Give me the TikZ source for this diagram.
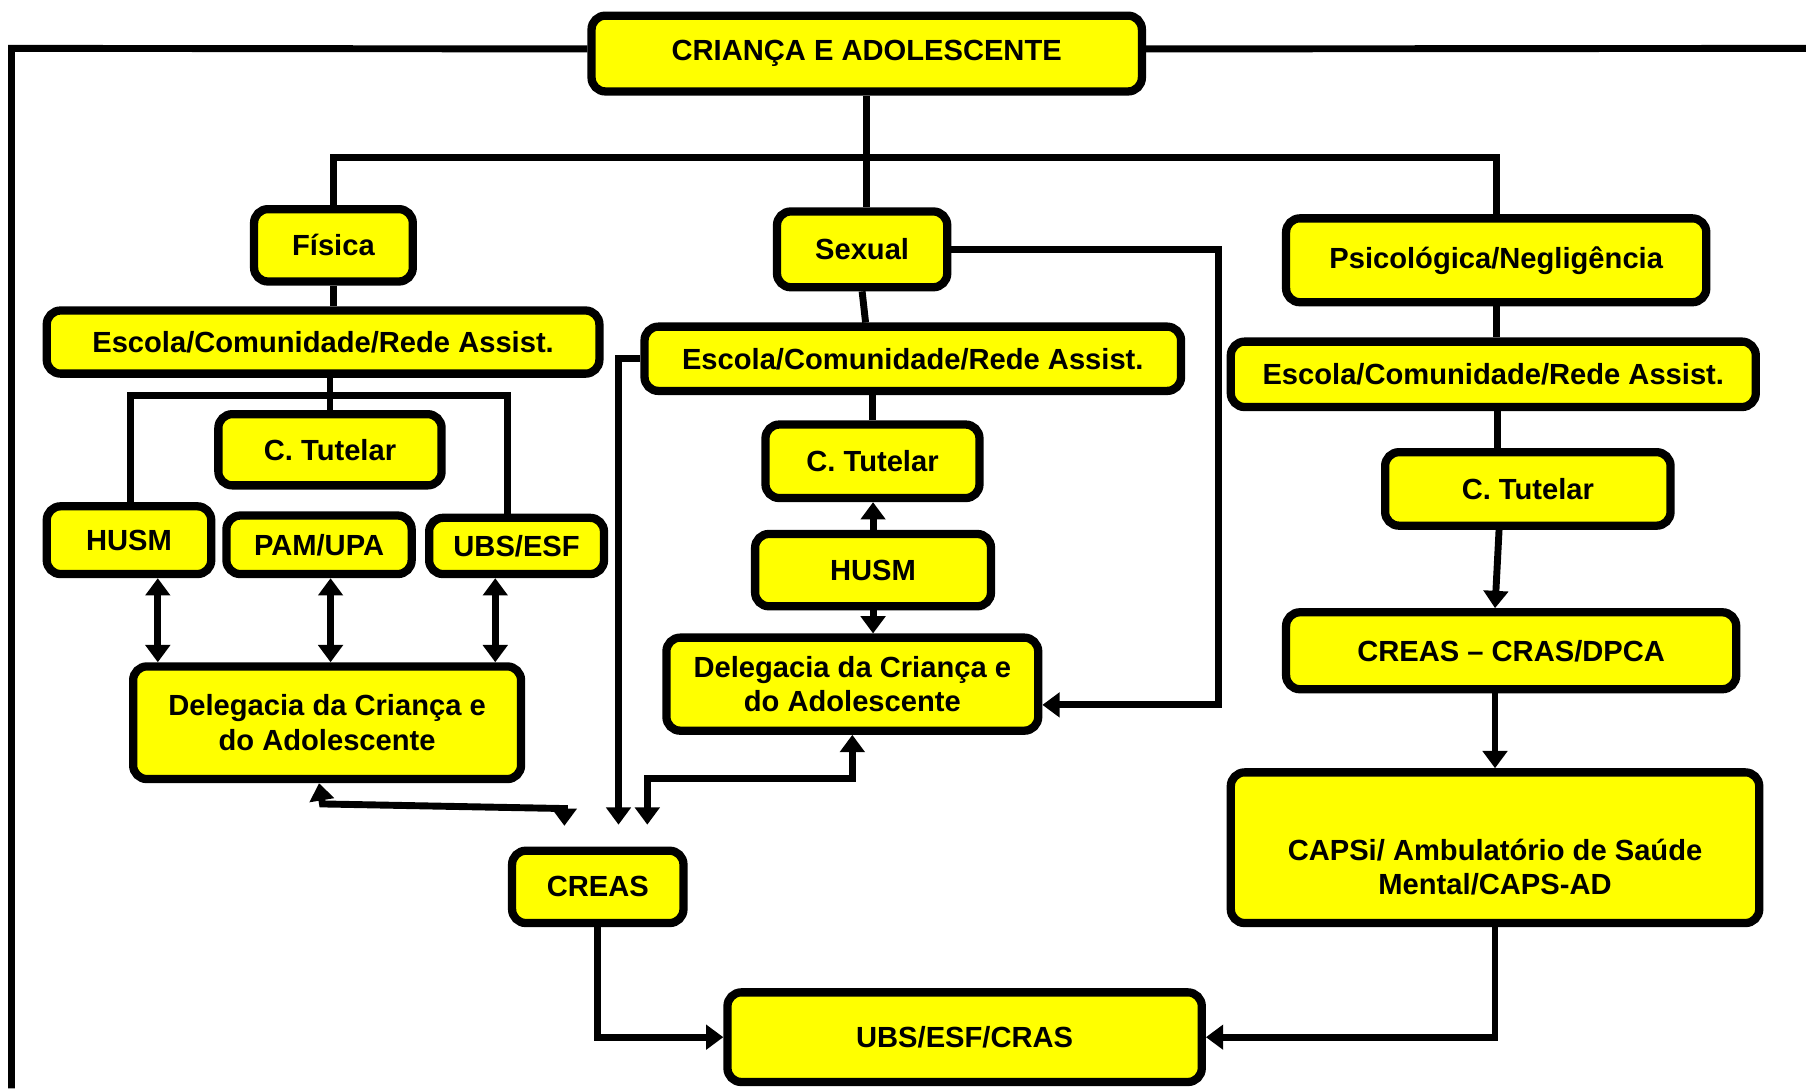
\documentclass[tikz,border=0pt]{standalone}
\usepackage{fontspec}
\setmainfont{Liberation Sans}
\usetikzlibrary{arrows.meta}
\begin{document}
\begin{tikzpicture}[x=0.5pt,y=-0.5pt,
  txt/.style={align=center,font=\bfseries\fontsize{12.65}{15}\selectfont},
  box/.style={txt,draw=drawColor,fill=fillColor,line width=3.6pt,rounded corners=6pt,inner sep=2pt},
  conn/.style={draw=drawColor,line width=3pt},
  tip/.style={conn,-{Triangle[length=7.5pt,width=10.5pt]}},
  dbl/.style={conn,{Triangle[length=7.5pt,width=10.5pt]}-{Triangle[length=7.5pt,width=10.5pt]}}]
\definecolor{fillColor}{RGB}{255,255,0}
\definecolor{drawColor}{RGB}{0,0,0}
\path[use as bounding box,fill=white] (0,0) rectangle (1568,945);

% boxes
\node[box,minimum width=238.9pt,minimum height=32.9pt] (main) at ( 752.5, 46.5) {CRIANÇA E ADOLESCENTE};
\node[box,minimum width= 68.9pt,minimum height=31.4pt] (fis)  at ( 289.5,213.0) {Física};
\node[box,minimum width= 73.9pt,minimum height=32.9pt] (sex)  at ( 748.5,216.5) {Sexual};
\node[box,minimum width=182.4pt,minimum height=36.4pt] (psi)  at (1299.0,226.0) {Psicológica/Negligência};

\node[box,minimum width=239.9pt,minimum height=27.4pt] (esc1) at ( 280.5,297.0) {Escola/Comunidade/Rede Assist.};
\node[box,minimum width= 96.9pt,minimum height=30.9pt] (ct1)  at ( 286.5,390.5) {C. Tutelar};
\node[box,minimum width= 71.4pt,minimum height=29.4pt] (husm1) at ( 112.0,469.0) {HUSM};
\node[box,minimum width= 80.4pt,minimum height=25.4pt] (pam)  at ( 277.0,473.0) {PAM/UPA};
\node[box,minimum width= 75.9pt,minimum height=24.4pt] (ubs1) at ( 448.5,474.0) {UBS/ESF};
\node[box,minimum width=168.4pt,minimum height=48.9pt] (del1) at ( 284.0,627.5) {Delegacia da Criança e\\do Adolescente};

\node[box,minimum width=232.9pt,minimum height=27.9pt] (esc2) at ( 792.5,311.5) {Escola/Comunidade/Rede Assist.};
\node[box,minimum width= 92.9pt,minimum height=31.9pt] (ct2)  at ( 757.5,400.5) {C. Tutelar};
\node[box,minimum width=102.4pt,minimum height=31.4pt] (husm2) at ( 758.0,495.0) {HUSM};
\node[box,minimum width=161.4pt,minimum height=40.4pt] (del2) at ( 740.0,594.0) {Delegacia da Criança e\\do Adolescente};
\node[box,minimum width= 74.4pt,minimum height=31.4pt] (creas) at ( 519.0,770.0) {CREAS};

\node[box,minimum width=227.9pt,minimum height=28.4pt] (esc3) at (1296.5,325.0) {Escola/Comunidade/Rede Assist.};
\node[box,minimum width=123.9pt,minimum height=31.9pt] (ct3)  at (1326.5,424.5) {C. Tutelar};
\node[box,minimum width=195.4pt,minimum height=33.4pt] (dpca) at (1312.0,565.0) {CREAS – CRAS/DPCA};
\node[box,minimum width=229.4pt,minimum height=65.4pt,
  label={[txt,inner sep=0pt,yshift=-8.5pt]center:CAPSi/ Ambulatório de Saúde\\Mental/CAPS-AD}] (caps) at (1298.0,736.0) {};
\node[box,minimum width=205.9pt,minimum height=38.9pt] (ucras) at ( 837.5,900.5) {UBS/ESF/CRAS};

% free ends
\coordinate (frameTL) at (10,42);
\coordinate (frameBL) at (10,945);
\coordinate (frameR) at (1568,42);
\coordinate (bus) at (0,137);
\coordinate (brkL) at (113,343);
\coordinate (brkR) at (441,343);
\coordinate (sexR) at (1058,612);
\coordinate (creasA) at (537,716);
\coordinate (del2c) at (562,676);
\coordinate (creasB) at (562,716);
\coordinate (del1c) at (280,698);
\coordinate (del1d) at (490,702);
\coordinate (creasC) at (490,717);

% frame
\path[conn] ([yshift=2pt]main.west) -- (frameTL) -- (frameBL);
\path[conn] ([yshift=2pt]main.east) -- (frameR);

% top level
\path[conn] (main.south) -- (main.south |- sex.north);
\path[conn] (fis.north) -- (fis.north |- bus) -- (psi.north |- bus) -- (psi.north);

% left column
\path[conn] (fis.south) -- (fis.south |- esc1.north);
\path[conn] (ct1.north |- esc1.south) -- (ct1.north);
\path[conn] (brkL |- husm1.north) -- (brkL) -- (brkR) -- (brkR |- ubs1.north);
\path[dbl] ([xshift=12.5pt]husm1.south) -- ([xshift=12.5pt]husm1.south |- del1.north);
\path[dbl] ([xshift=5pt]pam.south) -- ([xshift=5pt]pam.south |- del1.north);
\path[dbl] ([xshift=-9.25pt]ubs1.south) -- ([xshift=-9.25pt]ubs1.south |- del1.north);
\path[dbl] ([xshift=-3.5pt]del1.south) -- (del1c) -- (del1d) -- (creasC);

% middle column
\path[conn] (sex.south) -- ([xshift=1.5pt]sex.south |- esc2.north);
\path[conn] (ct2.north |- esc2.south) -- (ct2.north);
\path[tip] (husm2.north) -- (husm2.north |- ct2.south);
\path[tip] (husm2.south) -- (husm2.south |- del2.north);
\path[tip] (sex.east) -| (sexR) -- (sexR -| del2.east);
\path[tip] (esc2.west) -| (creasA);
\path[dbl] (del2.south) |- (del2c) -- (creasB);
\path[tip] (creas.south) |- (ucras.west);

% right column
\path[conn] (psi.south) -- (psi.south |- esc3.north);
\path[conn] ([xshift=2pt]esc3.south) -- ([xshift=2pt]esc3.south |- ct3.north);
\path[tip] ([xshift=-12.5pt]ct3.south) -- ([xshift=-7pt]dpca.north);
\path[tip] (caps.north |- dpca.south) -- (caps.north);
\path[tip] (caps.south) |- (ucras.east);
\end{tikzpicture}
\end{document}
